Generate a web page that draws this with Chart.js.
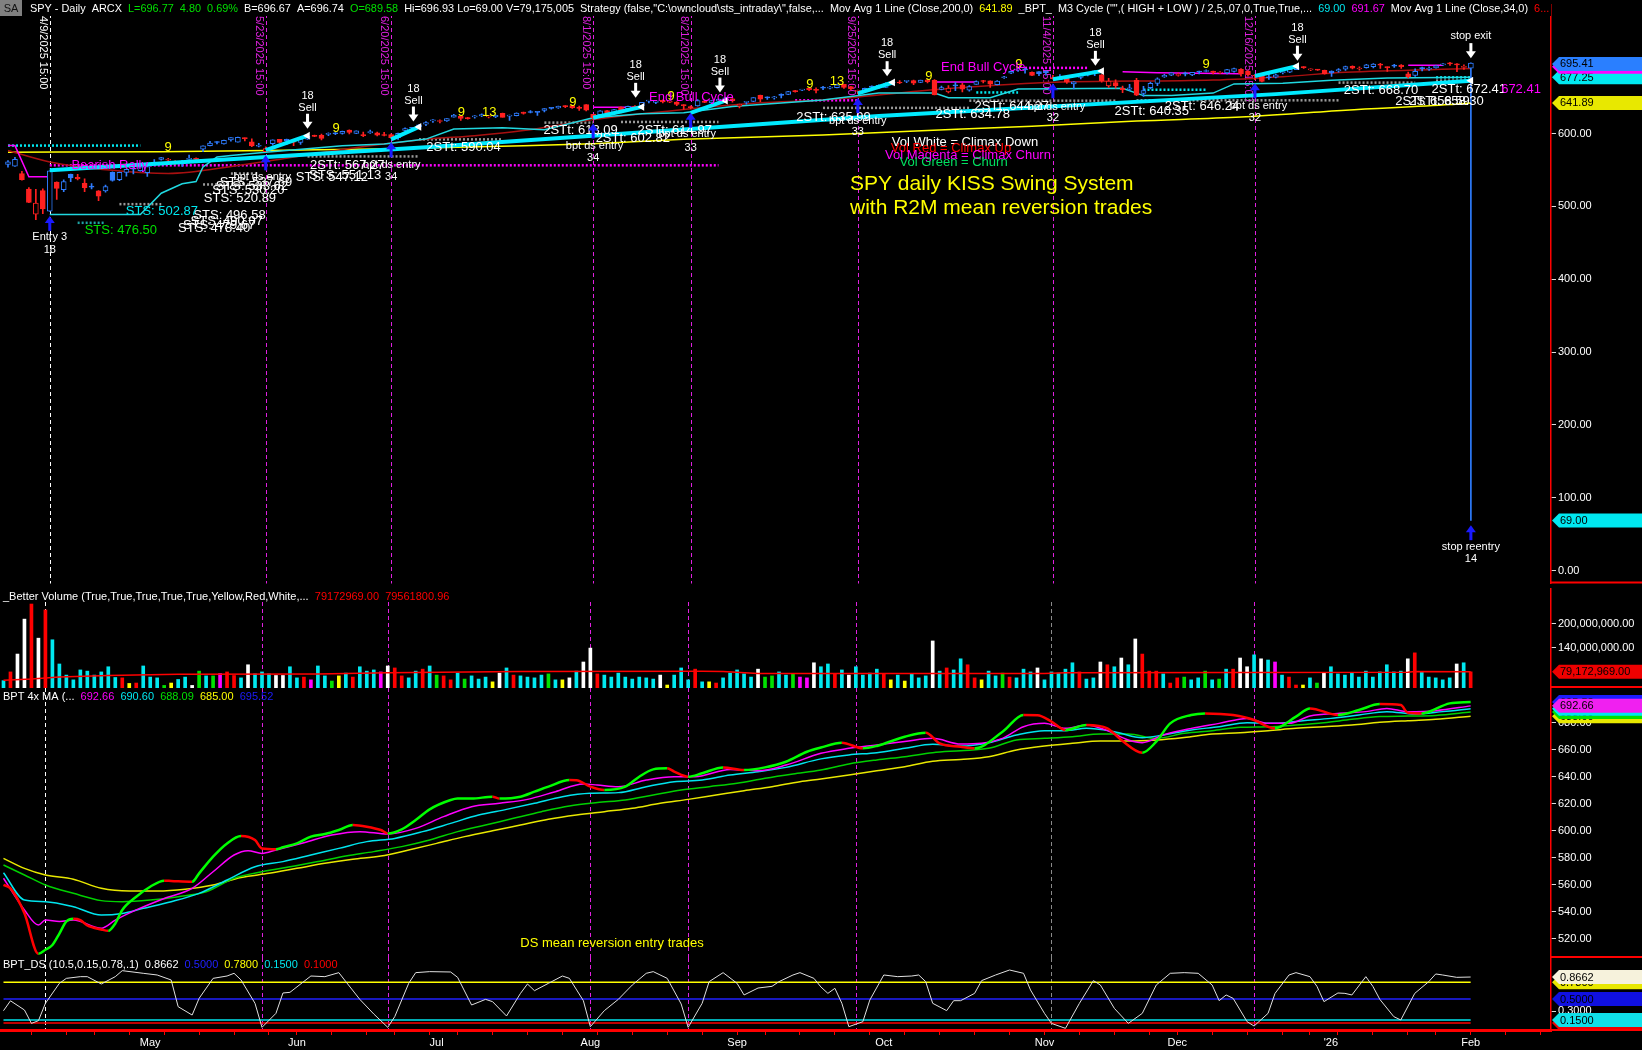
<!DOCTYPE html>
<html>
<head>
<meta charset="utf-8">
<title>SPY daily KISS Swing System</title>
<script src="https://cdn.jsdelivr.net/npm/chart.js@4.4.1/dist/chart.umd.min.js"></script>
<style>
  html, body { margin: 0; padding: 0; background: #000; overflow: hidden; }
  #wrap { position: relative; width: 1642px; height: 1050px; background: #000; }
  #wrap canvas { position: absolute; left: 0; }
</style>
</head>
<body>
<div id="wrap">
  <canvas id="priceChart" width="1642" height="588" style="top:0px"></canvas>
  <canvas id="volChart" width="1642" height="100" style="top:588px"></canvas>
  <canvas id="maChart" width="1642" height="270" style="top:688px"></canvas>
  <canvas id="dsChart" width="1642" height="92" style="top:958px"></canvas>
</div>
<script>
var FONT = '"Liberation Sans", Arial, sans-serif';
Chart.defaults.font.family = FONT;
Chart.defaults.font.size = 11;
Chart.defaults.color = '#ffffff';

// trading days shown on the chart (the last Feb slots are the empty room on the right)
var tradingDays = [
  ['2025-04', [1,2,3,4,7,8,9,10,11,14,15,16,17,21,22,23,24,25,28,29,30]],
  ['2025-05', [1,2,5,6,7,8,9,12,13,14,15,16,19,20,21,22,23,27,28,29,30]],
  ['2025-06', [2,3,4,5,6,9,10,11,12,13,16,17,18,20,23,24,25,26,27,30]],
  ['2025-07', [1,2,3,7,8,9,10,11,14,15,16,17,18,21,22,23,24,25,28,29,30,31]],
  ['2025-08', [1,4,5,6,7,8,11,12,13,14,15,18,19,20,21,22,25,26,27,28,29]],
  ['2025-09', [2,3,4,5,8,9,10,11,12,15,16,17,18,19,22,23,24,25,26,29,30]],
  ['2025-10', [1,2,3,6,7,8,9,10,13,14,15,16,17,20,21,22,23,24,27,28,29,30,31]],
  ['2025-11', [3,4,5,6,7,10,11,12,13,14,17,18,19,20,21,24,25,26,28]],
  ['2025-12', [1,2,3,4,5,8,9,10,11,12,15,16,17,18,19,22,23,24,26,29,30,31]],
  ['2026-01', [2,5,6,7,8,9,12,13,14,15,16,20,21,22,23,26,27,28,29,30]],
  ['2026-02', [2,3,4,5,6,9,10,11,12,13,17,18]]
];
var monthNames = {'05':'May','06':'Jun','07':'Jul','08':'Aug','09':'Sep','10':'Oct','11':'Nov','12':'Dec','01':"'26",'02':'Feb'};

// SPY daily bars
var opens = [557.5,555.1,545.1,523.7,489.2,521.6,493.4,533.2,523.0,544.0,539.7,531.7,527.6,521.2,521.1,546.8,536.6,546.6,551.4,548.9,546.2,
  560.4,564.5,563.2,558.7,559.1,564.5,565.8,578.6,583.4,587.8,585.6,591.3,588.1,593.1,588.4,582.5,575.0,586.1,591.8,592.1,588.1,
  587.8,592.3,597.0,597.6,598.7,600.0,600.2,604.6,600.0,598.5,600.9,600.9,598.0,598.4,594.3,604.3,607.9,608.9,612.9,617.4,
  616.4,617.2,622.5,623.4,621.4,622.8,624.2,622.7,623.2,627.5,623.7,624.4,629.3,628.8,629.1,631.6,635.0,635.1,637.9,638.4,635.9,639.5,
  626.3,625.7,631.5,629.0,636.3,634.0,637.3,638.3,644.3,642.5,645.6,642.9,643.1,639.4,636.3,637.8,644.6,642.1,644.6,647.2,647.5,
  637.5,642.7,644.0,652.4,649.4,648.9,652.7,653.6,658.0,659.3,661.8,660.2,662.3,662.3,662.8,667.3,664.5,657.8,659.6,664.4,662.9,
  663.2,670.3,669.9,671.6,672.6,670.2,673.5,672.9,660.6,657.0,666.8,666.8,659.5,667.3,671.4,672.1,666.9,676.5,682.9,687.0,688.7,683.9,685.0,
  685.7,676.1,674.0,676.5,667.9,677.0,679.9,686.0,680.5,665.4,669.9,662.1,660.7,672.9,655.1,662.7,668.8,677.6,679.9,
  679.7,682.7,680.2,685.2,685.0,685.6,683.0,683.2,685.2,688.2,685.7,679.2,680.5,677.6,677.2,683.5,684.3,687.7,690.6,687.2,687.3,686.6,
  685.7,685.8,688.1,692.0,688.5,690.4,691.6,694.8,690.9,694.0,693.7,681.8,679.6,689.6,688.2,690.0,694.2,697.0,695.3,690.8,689.58];
var highs = [562.9,567.4,547.97,525.9,523.2,524.0,548.6,533.5,536.4,544.3,544.0,537.9,531.2,521.8,529.3,547.2,546.9,551.0,553.5,555.3,555.5,
  564.2,567.2,565.8,562.7,563.1,570.4,566.6,583.0,589.1,588.9,590.9,594.5,594.9,594.1,592.6,586.6,581.8,591.3,592.0,592.4,590.6,
  592.8,597.1,597.9,599.0,600.8,601.2,603.4,605.1,603.8,601.8,604.5,601.8,601.5,599.5,600.5,607.9,608.6,612.3,616.4,619.2,
  618.8,620.5,626.3,624.0,622.1,624.7,626.9,624.9,625.2,627.9,625.2,628.4,629.5,631.5,629.4,634.2,635.3,637.6,638.3,638.7,637.7,639.8,
  626.3,631.3,631.7,633.2,636.4,637.7,638.3,642.9,645.1,645.0,646.2,644.0,643.6,639.7,637.9,646.5,645.3,645.3,647.4,649.5,647.8,
  640.5,643.7,649.2,652.6,650.2,650.9,654.5,658.0,659.1,660.6,662.1,662.6,664.6,664.6,667.3,667.3,664.6,659.6,662.4,665.3,666.6,
  669.4,670.6,672.7,672.5,673.2,673.2,673.9,673.9,665.1,665.8,670.2,668.7,665.8,672.2,672.9,672.2,672.7,678.4,685.5,689.7,689.7,684.6,685.1,
  685.8,679.9,680.9,677.4,671.1,682.2,684.0,686.4,680.9,675.7,673.7,665.1,667.3,675.6,664.6,670.6,676.2,681.0,683.4,
  683.0,684.4,684.0,685.5,687.4,685.7,685.0,688.0,689.9,688.9,685.8,680.6,680.7,681.0,681.6,684.8,687.3,690.4,691.7,688.6,687.9,687.0,
  685.9,689.1,692.6,693.0,691.5,695.0,696.0,696.1,691.4,695.0,694.5,684.2,688.7,691.0,691.3,693.6,696.0,697.8,695.9,694.3,696.93];
var lows = [553.7,554.8,535.8,505.1,481.8,489.9,493.0,509.4,520.2,533.9,536.4,520.3,523.9,507.8,519.5,534.5,535.3,541.3,544.5,548.2,541.0,
  557.0,563.4,562.0,557.1,554.9,561.6,561.5,575.1,582.9,585.5,585.3,589.3,588.1,589.7,581.8,581.4,575.0,583.9,586.7,584.8,583.3,
  585.1,591.9,595.5,591.1,596.9,598.5,598.9,599.4,599.6,595.5,600.2,596.8,596.5,593.6,591.9,603.4,605.5,608.0,610.8,615.0,
  614.4,616.6,622.4,617.9,619.5,620.9,623.0,621.5,621.8,622.3,618.0,624.2,626.5,628.3,624.8,629.5,633.2,634.3,635.5,634.3,631.5,630.8,
  619.3,625.5,625.6,627.5,628.1,633.7,634.3,635.6,641.9,640.8,641.8,642.2,638.1,632.9,633.8,637.3,642.3,641.9,644.4,645.4,643.1,
  634.9,640.2,643.5,643.5,646.6,647.2,648.9,653.4,656.8,658.7,658.9,655.7,660.1,661.1,662.6,661.9,659.7,654.4,657.9,661.6,661.6,
  663.1,666.8,668.2,669.7,667.1,669.6,669.5,652.8,659.8,655.6,658.9,657.1,658.1,667.3,669.4,663.3,666.7,675.7,682.1,685.3,682.6,679.2,679.2,
  679.9,674.6,674.0,668.7,661.2,674.8,679.1,679.5,670.5,663.3,662.2,655.9,658.8,651.9,650.9,661.1,665.5,676.9,679.2,
  678.8,679.0,679.3,681.8,684.5,681.9,682.2,681.6,684.1,678.5,678.8,673.9,670.8,674.2,676.4,681.8,683.5,687.4,689.3,686.1,686.4,681.5,
  678.2,684.1,686.7,688.7,686.9,689.5,690.0,689.2,685.0,690.5,689.3,676.3,678.4,685.9,686.4,689.6,693.4,693.5,684.8,687.9,69.00];
var closes = [560.97,564.52,536.70,505.28,504.38,496.48,548.62,524.58,533.94,539.12,537.61,525.66,526.41,513.88,527.25,535.42,546.69,550.64,550.85,554.32,554.54,
  558.47,566.76,563.51,558.80,561.15,565.06,564.34,582.99,586.84,587.59,590.46,594.20,594.85,592.85,582.86,583.09,579.11,591.15,587.73,590.05,589.39,
  592.71,596.09,595.93,593.05,599.14,599.68,603.08,601.36,603.75,597.00,602.68,597.53,597.20,594.28,600.15,606.78,607.12,611.87,614.91,617.85,
  617.65,620.45,625.34,620.68,620.34,624.06,625.82,623.62,624.81,622.14,624.22,628.04,627.58,628.77,628.86,634.21,634.42,637.10,636.94,635.26,634.46,632.08,
  621.72,631.17,627.97,632.78,632.25,637.18,635.92,642.69,644.89,644.95,643.44,643.30,639.81,638.11,635.55,645.31,642.47,645.16,646.79,648.92,645.05,
  640.27,643.74,649.12,647.24,648.83,650.33,652.21,657.63,657.41,660.91,660.00,659.18,662.26,663.70,666.84,663.21,661.10,658.05,661.82,663.68,666.18,
  668.45,669.22,669.21,671.61,669.12,673.11,671.16,653.02,663.04,662.23,665.17,660.64,664.39,671.30,671.29,667.80,671.76,677.25,685.24,687.06,687.39,679.83,682.06,
  683.34,675.24,677.58,670.31,670.97,681.44,683.00,683.38,672.04,671.93,665.67,660.08,662.63,652.53,659.03,668.73,675.02,679.68,683.39,
  680.27,681.53,683.89,684.39,685.69,683.63,683.04,687.57,689.17,681.76,680.73,678.87,671.40,676.47,680.59,684.83,687.96,690.38,690.31,687.85,687.01,681.92,
  683.17,687.72,691.81,689.58,689.51,694.07,695.16,693.77,690.36,692.24,691.66,677.58,685.40,688.98,689.23,692.73,695.49,695.42,694.04,691.97,696.77];

// volume in millions of shares and the Better Volume class of each bar
var volumes = [57,79,124,212,250,164,235,160,99,71,59,84,81,71,79,92,65,64,50,51,94,
  66,64,45,51,60,66,45,81,69,69,75,79,70,64,97,74,79,74,70,70,92,
  64,66,59,94,69,56,69,76,66,92,81,84,79,94,89,69,64,81,86,94,
  71,69,59,76,61,69,61,66,54,76,89,71,69,66,64,71,74,59,59,64,81,104,
  139,74,71,66,76,66,61,66,64,61,71,46,71,89,59,86,54,54,51,64,76,
  84,74,66,86,66,69,79,71,74,66,64,102,92,99,74,84,71,92,71,76,86,
  74,59,71,56,74,64,69,157,81,89,84,112,97,64,59,81,69,76,66,64,86,79,89,
  59,79,76,86,102,79,61,64,104,97,92,114,97,162,124,81,81,74,51,
  64,66,59,64,81,59,61,86,86,114,92,122,112,109,104,71,66,46,46,64,51,76,
  92,74,71,76,66,81,66,79,97,79,81,112,127,79,66,64,59,64,99,102,79.17];
var volClass = 'crwwrwrccccccccccryrc' + 'ccgyccwgcgmrrcwcccwwc' + 'crmccgycrcccmwrrccrc' +
  'grrcgcccywcrccccgcywcw' + 'wrccccccccwycccrcyrcc' + 'cccwggccgmmwccrcwcccc' +
  'rycycccwcrccrryccgrcccw' + 'cccccrccwrcwcwrrrcr' + 'rgccgcgcrwwcwcmcrrycgw' + 'cccccccccccwrcccccwcr';
var volAvg = [[0,58],[4,61],[8,66],[15,70],[25,73],[45,74],[55,77],[74,80],[100,81],[103,80],[108,75],[149,75],[152,77],[201,78],[202,80],[210,79.56]];

// price-panel indicator lines, [bar index, price]
var ma200 = [[0,574.3],[22,575],[37,576.5],[55,579],[74,583],[84,586],[97,592],[117,598],[132,604],[147,610],[162,617],[177,622.5],[192,632],[207,639.6],[210,641.89]];
var ma34 = [[0,576.6],[6,561],[15,549.5],[23,545],[33,556],[40,566],[48,578],[60,592],[67,597],[74,604],[84,619],[97,633],[108,642],[117,646],[133,660],[149,669.8],[173,673.4],[183,678],[192,684],[210,689]];
var cycleLow = [[6,488.8],[19,488.8],[22,518],[25,531],[27,534],[28,554],[30,567.6],[32,569.8],[37,574.3],[48,583.3],[54,585.6],[60,592.3],[64,606],[71,608],[77,605],[84,621.6],[91,627],[97,628.4],[104,637],[117,646],[125,655.4],[133,655.4],[135,649],[141,649],[145,661],[160,662],[163,652],[167,652],[173,655.4],[176,668],[183,669],[190,673],[198,676],[210,677.25]];
var cycleHigh = [
  [[0,583.4],[1,583.4],[3,540.5],[6,540.5]], [[84,636],[90,636]], [[133,670.7],[139,670.7]],
  [[160,684.7],[165,683.3],[177,682]], [[201,693.7],[206,693.7]]
];
// trades: entry -> exit
var tradeLines = [
  [[6,549.6],[60,581],[125,624],[182,654],[210,672.4]], [[37,577],[43,597]], [[55,592],[59,609]], [[84,621.6],[91,636.5]],
  [[98,628.4],[103,645]], [[122,655],[127,670]], [[150,674.3],[157,685.6]], [[179,678.8],[185,692.3]]
];
// dotted stop levels: [from bar, to bar, price, kind]
var stopLevels = [
  [6,102,556.3,'m'], [0,19,583.4,'c'], [10,14,477.4,'t'], [16,22,503,'w'], [28,37,530,'w'], [32,36,545,'w'],
  [43,59,568.5,'w'], [59,71,591.9,'w'], [77,84,614.9,'w'], [88,102,615.8,'w'], [113,122,645.5,'m'], [117,138,635.1,'w'],
  [138,159,645,'w'], [146,155,690,'m'], [139,145,656.3,'c'], [162,191,645.5,'w'], [191,202,669.8,'w'],
  [163,172,660,'c'], [205,210,672.5,'w'], [205,210,677,'c']
];

// markers and labels on the price panel, [bar index, price, text]
var sells = [[43,606.5],[58.2,616.4],[90.1,648.9],[102.2,656.1],[126.2,678.6],[156.1,692.8],[185.1,699.9]];
var stopExit = [210, 703.4];
var entries = [[6,486.9],[37,570],[55,587.8],[84,613.6],[98,628.4],[122,648.6],[150,668.9],[179,668.9],[210,62.4]];
var cycleMarks = [[6,'4/9/2025 15:00','w'],[37,'5/23/2025 15:00','m'],[55,'6/20/2025 15:00','m'],[84,'8/1/2025 15:00','m'],
  [98,'8/21/2025 15:00','m'],[122,'9/25/2025 15:00','m'],[150,'11/4/2025 15:00','g'],[179,'12/16/2025 15:00','m']];
var targetLabels = [
  [48.7,556.4,'2STt: 567.27'], [65.4,580.2,'2STt: 590.04'], [82.2,604.5,'2STt: 613.09'], [89.7,593.2,'2STt: 602.82'],
  [95.7,604.5,'2STt: 614.97'], [118.5,621.6,'2STt: 635.99'], [138.5,626.1,'2STt: 634.78'], [144.1,636.5,'2STt: 644.27'],
  [164.2,630.7,'2STt: 640.35'], [171.4,636.5,'2STt: 646.24'], [197.1,659.0,'2STt: 668.70'], [204.5,644.2,'2STt: 658.59'],
  [206.5,644.2,'2STt: 658.30'], [209.7,660.8,'2STt: 672.41'],
  [31.8,486.9,'STS: 496.58'], [31.4,479.9,'STS: 490.07'], [29.6,469.9,'STS: 478.40'], [30.3,474.0,'STS: 479.67'],
  [33.3,511.0,'STS: 520.89'], [34.5,522.3,'STS: 530.20'], [35.0,527.0,'STS: 533.62'], [35.6,532.2,'STS: 537.69'],
  [46.5,540.0,'STS: 547.12'], [48.4,542.8,'STS: 551.13']
];
var entryLabels = [
  [6,458.6,'Entry 3'], [6,440.2,'18'], [36.5,540.5,'bpt ds entry'], [55.1,556.4,'bpt ds entry'], [55,540.5,'34'],
  [84.2,583.1,'bpt ds entry'], [84,566.2,'34'], [97.5,598.7,'bpt ds entry'], [98,580.3,'33'],
  [122,617.1,'bpt ds entry'], [122,601.5,'33'], [150.5,636.5,'bpt ds entry'], [150,620.7,'32'],
  [179.5,638.2,'bpt ds entry'], [179,620.7,'32'], [210,32.7,'stop reentry'], [210,15.7,'14']
];
var setupCounts = [[23,580.2,'9'],[47.1,606.8,'9'],[65.1,629.3,'9'],[69.1,629.3,'13'],[81.1,643.2,'9'],[95.2,651,'9'],
  [115.1,666.7,'9'],[119,671.2,'13'],[132.2,678.8,'9'],[145.1,695,'9'],[172,695,'9']];
var cycleLabels = [[14.6,556.4,'Bearish Rally'],[98.1,649.6,'End Bull Cycle'],[140,690.1,'End Bull Cycle'],[217.2,660.8,'672.41']];
var stsGreen = [16.2,467.2,'STS: 476.50'];
var stsCyan = [22.1,493.2,'STS: 502.87'];

// BPT 4x MA panel, [bar index, value]
var maFast = [[0,560],[1,557.5],[3,539],[5,509],[6,512],[7,515.5],[8,524],[9,533],[10,535],[11,534],[12,530],[14,527],[15,526],[16,531.5],[17,541.5],[19,551.3],[21,558.7],[23,563.2],[24,563],[27,562.4],[28,568.6],[30,581],[32,590.8],[34,596.3],[36,593.3],[37,587],[39,586.4],[40,587.9],[42,590.8],[44,595.8],[46,597.7],[48,600.7],[50,604.4],[52,603.2],[54,600.7],[55,598.2],[57,601.2],[59,608.1],[61,616],[64,622.9],[65,624],[67,624],[70,625.4],[71,624],[74,625.4],[76,629.1],[78,632.8],[81,637.7],[82,637.6],[84,632.8],[86,630.3],[89,632.8],[91,640.2],[93,645.6],[95,646.4],[96,644],[98,640.2],[100,642.7],[103,647.1],[106,645.1],[109,647.1],[112,651.3],[115,658.7],[117,661.8],[120,665.4],[123,661.2],[125,663],[129,669.8],[132,672.8],[134,664.9],[137,662.4],[139,661.2],[143,673.5],[146,685.9],[148,685.8],[150,681],[152,674.8],[155,678.5],[158,676],[160,667.4],[163,658],[165,666.2],[167,679.7],[170,685.9],[172,687.1],[176,685.9],[179,682.2],[181,677.2],[182,676],[185,684.7],[187,690.8],[191,685.9],[194,689.6],[197,694],[200,693.3],[201,687.6],[203,687.1],[207,694.5],[210,695.52]];
var maMagenta = [[0,565],[3,541.5],[5,530.3],[6,534],[8,533],[10,534],[14,528],[16,534],[19,541.5],[23,550],[27,557.5],[30,569.8],[33,582.2],[35,585.4],[37,583.4],[39,585.9],[43,591.3],[47,597],[51,599.5],[55,597.7],[59,601.9],[63,610.6],[67,618],[71,620.5],[75,623.4],[79,629.1],[83,634.8],[85,634],[88,632.8],[92,637.7],[96,640.2],[99,640.2],[104,645.6],[108,644.6],[112,648.8],[117,657.5],[121,661.2],[125,663.7],[129,666.2],[133,668.6],[137,664.4],[140,664.9],[143,668.6],[146,677.2],[149,679.7],[152,676],[155,678.5],[158,674.3],[161,667.4],[163,665.4],[166,671.1],[170,676],[174,679.7],[178,683.4],[181,679.7],[184,679.7],[187,685.1],[191,687.1],[195,688.4],[198,690.8],[201,688.4],[205,689.1],[210,692.66]];
var maCyan = [[0,569.1],[3,548.8],[6,547.6],[10,543.9],[14,537.7],[17,538.9],[20,542.7],[24,547.6],[28,553.8],[32,563.7],[36,573.5],[40,577.3],[44,582.2],[48,587.1],[52,592.1],[56,594.5],[60,599.5],[64,605.6],[68,611.8],[72,616],[76,620.5],[80,625.4],[84,627.9],[88,628.4],[92,632.8],[96,636.5],[100,637.7],[104,641.4],[108,643.9],[112,647.1],[117,653.4],[121,656.3],[125,658],[129,661.2],[133,664.2],[137,662.9],[141,665.4],[145,671.1],[149,674.3],[152,674.3],[155,676],[159,673.5],[163,669.1],[166,671.1],[170,674.8],[174,677.2],[178,680.2],[182,679.7],[186,681.7],[190,683.4],[194,685.9],[198,688.4],[202,686.6],[206,688.4],[210,690.6]];
var maGreen = [[0,574.8],[3,567.4],[6,560],[10,553.8],[14,548.4],[17,547.6],[21,548.8],[25,551.3],[29,555],[33,564.9],[37,569.8],[41,573.5],[45,577.3],[49,581.4],[53,584.7],[57,588.4],[61,593.3],[65,599.5],[69,604.4],[73,609.4],[77,614.3],[81,618.5],[85,621],[89,622.9],[93,626.6],[97,630.3],[101,632.8],[105,635.3],[109,639],[113,642.2],[117,645.1],[121,649.6],[125,652.6],[129,655],[133,658],[137,659.5],[141,661.2],[145,667.4],[149,668.6],[153,669.8],[157,671.8],[161,671.8],[165,668.6],[169,672.3],[173,674.3],[177,676.8],[181,677.2],[185,678.5],[189,680.2],[193,682.7],[197,684.7],[201,685.1],[205,685.6],[210,688.09]];
var maYellow = [[0,579.7],[3,572.3],[6,567.4],[10,564.2],[14,557.5],[18,555.5],[22,555.5],[26,556.8],[30,560],[34,565.6],[38,568.6],[42,572.3],[46,576],[50,579],[54,581.4],[58,585.9],[62,590.8],[66,595.8],[70,600.2],[74,604.4],[78,608.6],[82,611.8],[86,614.3],[90,616.8],[94,620.5],[98,623.4],[102,626.6],[106,629.8],[110,632.8],[114,636.5],[117,638.5],[121,641.4],[125,644.6],[129,647.6],[133,651.6],[137,653],[141,655],[145,660],[149,662.9],[153,664.9],[157,666.6],[161,666.6],[165,667.4],[169,669.3],[173,671.8],[177,672.8],[181,674.3],[185,676],[189,677.2],[193,678.5],[197,680.5],[201,681.7],[205,682.7],[210,685]];

// BPT_DS oscillator, [bar index, value], and its fixed levels
var dsOsc = [[0,.305],[1,.47],[3,.317],[4,.094],[5,.139],[6,.428],[8,.761],[9,.844],[11,.872],[12,.872],[14,.75],[16,.872],[17,.972],[20,.928],[22,.9],[24,.817],[25,.372],[27,.233],[28,.511],[30,.844],[32,.883],[33,.928],[34,.817],[36,.428],[37,.028],[39,.261],[40,.6],[41,.611],[44,.883],[46,.872],[48,.939],[49,.789],[51,.494],[53,.25],[55,.028],[56,.206],[58,.761],[59,.939],[61,.956],[64,.95],[65,.861],[67,.4],[69,.494],[70,.456],[72,.217],[74,.594],[75,.75],[76,.639],[78,.761],[80,.883],[81,.844],[83,.472],[84,.039],[86,.306],[88,.494],[90,.733],[92,.928],[93,.956],[95,.844],[97,.417],[98,.028],[100,.428],[101,.789],[103,.939],[105,.761],[106,.567],[108,.683],[110,.711],[111,.789],[113,.9],[114,.939],[116,.844],[117,.7],[118,.594],[119,.678],[120,.428],[121,.039],[123,.122],[124,.483],[126,.9],[128,.872],[130,.883],[131,.9],[132,.789],[133,.428],[135,.306],[136,.472],[137,.472],[139,.594],[140,.806],[142,.9],[144,.983],[146,.928],[147,.65],[149,.261],[150,.094],[152,.011],[154,.428],[156,.806],[157,.733],[159,.344],[161,.094],[163,.261],[165,.733],[167,.928],[169,.939],[171,.928],[173,.733],[174,.472],[175,.567],[176,.511],[178,.122],[179,.05],[181,.261],[182,.594],[184,.9],[185,.939],[187,.872],[188,.711],[189,.456],[191,.6],[192,.594],[193,.567],[195,.872],[196,.711],[197,.494],[199,.206],[200,.15],[202,.594],[204,.789],[205,.917],[206,.9],[208,.861],[210,.8662]];
var dsLevels = [0.78, 0.5, 0.15, 0.1];

// axis ticks per panel
var priceTicks = [0, 100, 200, 300, 400, 500, 600];
var volTicks = [140, 200];
var maTicks = [520, 540, 560, 580, 600, 620, 640, 660, 680];
var dsTicks = [0.3];

var COL = {w:'#ffffff', c:'#00e8f0', r:'#ff0000', g:'#00e000', y:'#ffff00', m:'#ff00ff', b:'#1c1cff', t:'#1fa3a3', grey:'#9a9a9a'};

var dates = [];
tradingDays.forEach(function (m) {
  m[1].forEach(function (d) { dates.push(m[0] + '-' + (d < 10 ? '0' + d : String(d))); });
});
var monthTick = dates.map(function (d, i) {
  if (i === 0) return '';
  var m = d.slice(5, 7);
  return m !== dates[i - 1].slice(5, 7) ? monthNames[m] : '';
});
var weekTick = dates.map(function (d, i) {
  if (i === 0) return false;
  var a = new Date(d + 'T12:00:00Z'), b = new Date(dates[i - 1] + 'T12:00:00Z');
  return a.getUTCDay() < b.getUTCDay() || (a - b) > 4 * 864e5;
});

function pts(pairs) {
  return pairs.map(function (p) { return {x: dates[p[0]], y: p[1]}; });
}
function line(data, color, width, extra) {
  var ds = {type: 'line', data: data, borderColor: color, borderWidth: width, pointRadius: 0, fill: false, tension: 0};
  return Object.assign(ds, extra || {});
}
function label(ctx, s, x, y, color, size, align) {
  ctx.font = size + 'px ' + FONT;
  ctx.fillStyle = color;
  ctx.textAlign = align || 'center';
  ctx.textBaseline = 'middle';
  ctx.fillText(s, x, y);
}
function textRow(ctx, parts, x, y, size) {
  ctx.font = (size || 11) + 'px ' + FONT;
  ctx.textAlign = 'left';
  ctx.textBaseline = 'middle';
  parts.forEach(function (p) {
    ctx.fillStyle = p[1];
    ctx.fillText(p[0], x, y);
    x += ctx.measureText(p[0]).width;
  });
}
function tag(chart, v, color, text) {
  var ctx = chart.ctx, y = chart.scales.y.getPixelForValue(v);
  var l = chart.chartArea.right + 1, r = chart.width, h = 14;
  ctx.fillStyle = color;
  ctx.beginPath();
  ctx.moveTo(l, y);
  ctx.lineTo(l + 7, y - h / 2);
  ctx.lineTo(r, y - h / 2);
  ctx.lineTo(r, y + h / 2);
  ctx.lineTo(l + 7, y + h / 2);
  ctx.closePath();
  ctx.fill();
  label(ctx, text, l + 8, y + 0.5, '#000000', 11, 'left');
}
function separator(chart, full) {
  var ctx = chart.ctx;
  ctx.strokeStyle = '#ff0000';
  ctx.lineWidth = 2;
  ctx.beginPath();
  ctx.moveTo(full ? 0 : chart.chartArea.right, chart.chartArea.bottom - 1);
  ctx.lineTo(chart.width, chart.chartArea.bottom - 1);
  ctx.stroke();
}
function downArrow(ctx, x, y, color) {
  ctx.fillStyle = color;
  ctx.fillRect(x - 1.5, y - 15, 3, 9);
  ctx.beginPath();
  ctx.moveTo(x - 5, y - 7); ctx.lineTo(x + 5, y - 7); ctx.lineTo(x, y);
  ctx.closePath(); ctx.fill();
}
function upArrow(ctx, x, y, color) {
  ctx.fillStyle = color;
  ctx.fillRect(x - 1.5, y + 6, 3, 9);
  ctx.beginPath();
  ctx.moveTo(x - 5, y + 7); ctx.lineTo(x + 5, y + 7); ctx.lineTo(x, y);
  ctx.closePath(); ctx.fill();
}

// dashed date lines through every panel
var cycleLines = {
  id: 'cycleLines',
  beforeDatasetsDraw: function (chart, args, opts) {
    var ctx = chart.ctx, sx = chart.scales.x, top = opts.top || 0, bottom = chart.chartArea.bottom;
    ctx.save();
    ctx.lineWidth = 1;
    cycleMarks.forEach(function (m) {
      var x = Math.round(sx.getPixelForValue(m[0])) + 0.5;
      var color = m[2] === 'w' ? '#ffffff' : ((m[2] === 'g' && !opts.labels) ? '#8a8a8a' : '#e020e0');
      ctx.setLineDash([4, 3]);
      ctx.strokeStyle = color;
      ctx.beginPath(); ctx.moveTo(x, top); ctx.lineTo(x, bottom); ctx.stroke();
      if (opts.labels) {
        ctx.save();
        ctx.setLineDash([]);
        ctx.translate(x - 2, 16);
        ctx.rotate(Math.PI / 2);
        ctx.font = '11px ' + FONT;
        ctx.fillStyle = m[2] === 'w' ? '#ffffff' : '#e020e0';
        ctx.textAlign = 'left';
        ctx.textBaseline = 'top';
        ctx.fillText(m[1], 0, 0);
        ctx.restore();
      }
    });
    ctx.restore();
  }
};

function makeOptions(yMin, yMax, tickValues, fmt, showX) {
  return {
    responsive: false, animation: false, events: [],
    layout: {padding: 0},
    plugins: {legend: {display: false}, tooltip: {enabled: false}},
    scales: {
      x: {
        type: 'category', offset: true, display: showX,
        grid: {offset: false, drawOnChartArea: false, tickLength: 4, lineWidth: 1,
          tickColor: function (c) { return weekTick[c.index] ? '#ff0000' : 'rgba(0,0,0,0)'; }},
        border: {color: '#ff0000', width: 2},
        ticks: {autoSkip: false, maxRotation: 0, minRotation: 0, padding: 1, color: '#ffffff',
          callback: function (v, i) { return monthTick[i]; }},
        afterFit: function (s) { if (showX) { s.height = 19; s.paddingLeft = 0; s.paddingRight = 0; } }
      },
      y: {
        position: 'right', min: yMin, max: yMax,
        afterBuildTicks: function (s) { s.ticks = tickValues.map(function (v) { return {value: v}; }); },
        afterFit: function (s) { s.width = 91; s.paddingTop = 0; s.paddingBottom = 0; },
        grid: {drawOnChartArea: false, tickLength: 5, tickColor: '#dddddd'},
        border: {color: '#ff0000', width: 1.5},
        ticks: {color: '#ffffff', padding: 2, callback: fmt}
      }
    }
  };
}

// ---------- price panel ----------
// colour by change from the prior close, hollow body when the bar closed above its open
var candleCol = closes.map(function (c, i) { return (i === 0 || c >= closes[i - 1]) ? '#2f7dff' : '#ff2020'; });
var bodyFill = closes.map(function (c, i) { return c > opens[i] ? '#000000' : candleCol[i]; });
var priceSets = [];
tradeLines.forEach(function (t) {
  priceSets.push(line(pts(t), '#00eaff', 4, {
    pointRadius: function (c) { return c.dataIndex === t.length - 1 ? 4.5 : 0; },
    pointStyle: 'triangle', rotation: 270,
    pointBackgroundColor: '#ffffff', pointBorderColor: '#ffffff', pointBorderWidth: 0
  }));
});
priceSets.push({type: 'bar', data: opens.map(function (o, i) { return [o, closes[i]]; }),
  backgroundColor: bodyFill, borderColor: candleCol, borderWidth: 1, borderSkipped: false,
  barThickness: 5, grouped: false, minBarLength: 1});
priceSets.push({type: 'bar', data: lows.map(function (l, i) { return [l, highs[i]]; }),
  backgroundColor: candleCol, barThickness: 1, grouped: false});
priceSets.push(line(pts(cycleLow), '#20d8e0', 1.5));
cycleHigh.forEach(function (s) { priceSets.push(line(pts(s), '#ff00ff', 1.5)); });
priceSets.push(line(pts(ma34), '#a81010', 1.5, {cubicInterpolationMode: 'monotone'}));
priceSets.push(line(pts(ma200), '#ffff00', 1.5, {cubicInterpolationMode: 'monotone'}));
stopLevels.forEach(function (s) {
  var c = s[3] === 'w' ? COL.grey : COL[s[3]];
  priceSets.push(line(pts([[s[0], s[2]], [s[1], s[2]]]), c, 2.5, {borderDash: [2, 2]}));
});

var headerParts = [
  ['SPY - Daily  ARCX  ', COL.w], ['L=696.77  4.80  0.69%  ', COL.g], ['B=696.67  A=696.74  ', COL.w],
  ['O=689.58  ', COL.g], ['Hi=696.93 Lo=69.00 V=79,175,005  ', COL.w],
  ['Strategy (false,"C:\\owncloud\\sts_intraday\\",false,...  ', COL.w],
  ['Mov Avg 1 Line (Close,200,0)  ', COL.w], ['641.89  ', COL.y],
  ['_BPT_  M3 Cycle ("",( HIGH + LOW ) / 2,5,.07,0,True,True,...  ', COL.w],
  ['69.00  ', COL.c], ['691.67  ', COL.m], ['Mov Avg 1 Line (Close,34,0)  ', COL.w], ['6...', COL.r]
];

var priceOverlay = {
  id: 'priceOverlay',
  afterDraw: function (chart) {
    var ctx = chart.ctx, sx = chart.scales.x, sy = chart.scales.y;
    var X = function (i) { return sx.getPixelForValue(i); };
    var Y = function (v) { return sy.getPixelForValue(v); };
    ctx.save();
    targetLabels.forEach(function (a) { label(ctx, a[2], X(a[0]), Y(a[1]), '#ffffff', 13); });
    label(ctx, stsGreen[2], X(stsGreen[0]), Y(stsGreen[1]), COL.g, 13);
    label(ctx, stsCyan[2], X(stsCyan[0]), Y(stsCyan[1]), COL.c, 13);
    entryLabels.forEach(function (a) { label(ctx, a[2], X(a[0]), Y(a[1]), '#ffffff', 11); });
    setupCounts.forEach(function (a) { label(ctx, a[2], X(a[0]), Y(a[1]), COL.y, 13); });
    cycleLabels.forEach(function (a) { label(ctx, a[2], X(a[0]), Y(a[1]), COL.m, 13); });
    sells.forEach(function (s) {
      var x = X(s[0]), y = Y(s[1]);
      downArrow(ctx, x, y, '#ffffff');
      label(ctx, 'Sell', x, y - 21, '#ffffff', 11);
      label(ctx, '18', x, y - 33, '#ffffff', 11);
    });
    downArrow(ctx, X(stopExit[0]), Y(stopExit[1]), '#ffffff');
    label(ctx, 'stop exit', X(stopExit[0]), Y(stopExit[1]) - 22, '#ffffff', 11);
    entries.forEach(function (e) { upArrow(ctx, X(e[0]), Y(e[1]), '#1a1aff'); });

    label(ctx, 'Vol White = Climax Down', 965, 142.7, COL.w, 13);
    label(ctx, 'Vol Red = Climax Up', 951, 148.3, COL.r, 13);
    label(ctx, 'Vol Magenta = Climax Churn', 968, 155, COL.m, 13);
    label(ctx, 'Vol Green = Churn', 953.6, 162.3, '#00e060', 13);
    label(ctx, 'SPY daily KISS Swing System', 850, 184, COL.y, 21, 'left');
    label(ctx, 'with R2M mean reversion trades', 850, 208, COL.y, 21, 'left');

    ctx.save();
    ctx.beginPath(); ctx.rect(0, 0, chart.chartArea.right, 18); ctx.clip();
    ctx.fillStyle = '#000'; ctx.fillRect(0, 0, chart.chartArea.right, 16);
    ctx.fillStyle = '#808080'; ctx.fillRect(0, 0, 22, 16);
    label(ctx, 'SA', 11, 8.5, '#111111', 11);
    textRow(ctx, headerParts, 30, 9, 10.9);
    ctx.restore();

    tag(chart, 677.25, COL.c, '677.25');
    tag(chart, 691.67, COL.m, '691.67');
    tag(chart, 695.41, '#2a7fff', '695.41');
    tag(chart, 641.89, '#e8e800', '641.89');
    tag(chart, 69.00, COL.c, '69.00');
    separator(chart, false);
    ctx.restore();
  }
};

new Chart(document.getElementById('priceChart'), {
  type: 'bar',
  data: {labels: dates, datasets: priceSets},
  options: Object.assign(makeOptions(-17.6, 777, priceTicks, function (v) { return v.toFixed(2); }, false),
    {plugins: {legend: {display: false}, tooltip: {enabled: false}, cycleLines: {top: 14, labels: true}}}),
  plugins: [cycleLines, priceOverlay]
});

// ---------- volume panel ----------
var volPalette = {c: COL.c, r: COL.r, w: COL.w, g: COL.g, y: COL.y, m: COL.m};
var volOverlay = {
  id: 'volOverlay',
  afterDraw: function (chart) {
    var ctx = chart.ctx;
    ctx.save();
    textRow(ctx, [['_Better Volume (True,True,True,True,True,Yellow,Red,White,...  ', COL.w],
      ['79172969.00  ', COL.r], ['79561800.96', COL.r]], 3, 9);
    tag(chart, 79.17, '#ee0000', '79,172,969.00');
    separator(chart, false);
    ctx.restore();
  }
};
new Chart(document.getElementById('volChart'), {
  type: 'bar',
  data: {labels: dates, datasets: [
    line(pts(volAvg), '#ff0000', 1.5),
    {type: 'bar', data: volumes, barThickness: 3, grouped: false,
      backgroundColor: volClass.split('').map(function (k) { return volPalette[k]; })}
  ]},
  options: Object.assign(makeOptions(38.5, 290.4, volTicks, function (v) {
      return (v * 1e6).toLocaleString('en-US', {minimumFractionDigits: 2, maximumFractionDigits: 2});
    }, false),
    {plugins: {legend: {display: false}, tooltip: {enabled: false}, cycleLines: {top: 14}}}),
  plugins: [cycleLines, volOverlay]
});

// ---------- BPT 4x MA panel ----------
var maOverlay = {
  id: 'maOverlay',
  afterDraw: function (chart) {
    var ctx = chart.ctx;
    ctx.save();
    textRow(ctx, [['BPT 4x MA (...  ', COL.w], ['692.66  ', COL.m], ['690.60  ', COL.c], ['688.09  ', COL.g],
      ['685.00  ', COL.y], ['695.52', COL.b]], 3, 9);
    label(ctx, 'DS mean reversion entry trades', 612, 255, COL.y, 13);
    tag(chart, 695.52, COL.b, '695.52');
    tag(chart, 685.00, '#e8e800', '685.00');
    tag(chart, 688.09, COL.g, '688.09');
    tag(chart, 690.60, COL.c, '690.60');
    tag(chart, 692.66, '#f020f0', '692.66');
    separator(chart, false);
    ctx.restore();
  }
};
new Chart(document.getElementById('maChart'), {
  type: 'line',
  data: {labels: dates, datasets: [
    line(pts(maFast), '#00ff00', 2.5, {cubicInterpolationMode: 'monotone', segment: {
      borderColor: function (c) { return c.p1.parsed.y >= c.p0.parsed.y ? '#00ff00' : '#ff0000'; }}}),
    line(pts(maMagenta), '#ff00ff', 1.5, {cubicInterpolationMode: 'monotone'}),
    line(pts(maCyan), '#00e5ee', 1.5, {cubicInterpolationMode: 'monotone'}),
    line(pts(maGreen), '#00d000', 1.5, {cubicInterpolationMode: 'monotone'}),
    line(pts(maYellow), '#e8e800', 1.5, {cubicInterpolationMode: 'monotone'})
  ]},
  options: Object.assign(makeOptions(505.9, 705.9, maTicks, function (v) { return v.toFixed(2); }, false),
    {plugins: {legend: {display: false}, tooltip: {enabled: false}, cycleLines: {top: 0}}}),
  plugins: [cycleLines, maOverlay]
});

// ---------- BPT_DS oscillator panel ----------
var dsLevelColors = ['#ffff00', '#2020ff', '#00e5ee', '#ff0000'];
var dsSets = [line(pts(dsOsc), '#e0e0e0', 1)];
dsLevels.forEach(function (v, k) {
  dsSets.push(line(pts([[0, v], [210, v]]), dsLevelColors[k], 1.5));
});
var dsOverlay = {
  id: 'dsOverlay',
  afterDraw: function (chart) {
    var ctx = chart.ctx;
    ctx.save();
    textRow(ctx, [['BPT_DS (10.5,0.15,0.78,.1)  ', COL.w], ['0.8662  ', COL.w], ['0.5000  ', '#2020ff'],
      ['0.7800  ', COL.y], ['0.1500  ', COL.c], ['0.1000', COL.r]], 3, 6.5);
    tag(chart, 0.78, '#e8e800', '0.7800');
    tag(chart, 0.8662, '#f6f2dc', '0.8662');
    tag(chart, 0.5, '#1010e0', '0.5000');
    tag(chart, 0.1, '#ee0000', '0.1000');
    tag(chart, 0.15, '#10e0e8', '0.1500');
    separator(chart, true);
    ctx.restore();
  }
};
new Chart(document.getElementById('dsChart'), {
  type: 'line',
  data: {labels: dates, datasets: dsSets},
  options: Object.assign(makeOptions(-0.033, 1.183, dsTicks, function (v) { return v.toFixed(4); }, true),
    {plugins: {legend: {display: false}, tooltip: {enabled: false}, cycleLines: {top: 0}}}),
  plugins: [cycleLines, dsOverlay]
});
</script>
</body>
</html>
